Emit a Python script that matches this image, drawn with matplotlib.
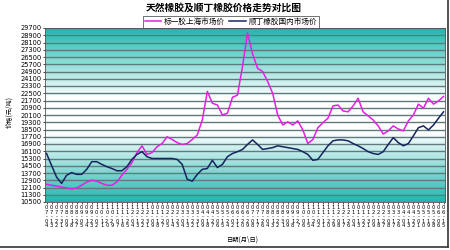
import numpy as np
import pandas as pd
import matplotlib
matplotlib.use("Agg")
import matplotlib.pyplot as plt
from matplotlib.colors import LinearSegmentedColormap
from matplotlib.lines import Line2D

plt.rcParams["font.family"] = ["Noto Sans CJK SC", "DejaVu Sans"]

# Data (yuan / ton)
shanghai_price = [
    12450, 12350, 12250, 12150, 12050, 11950, 12050, 12350, 12700, 12900,
    12800, 12550, 12350, 12350, 12700, 13450, 14100, 14850, 15950, 16700,
    15750, 15950, 16600, 16950, 17700, 17400, 17050, 16850, 16950, 17400,
    17900, 19550, 22700, 21400, 21200, 20100, 20300, 22050, 22300, 25450,
    29150, 26850, 25250, 24900, 23800, 22500, 20100, 19000, 19350, 19000,
    19450, 18450, 16950, 17400, 18700, 19250, 19750, 21100, 21200, 20550,
    20450, 21100, 21950, 20450, 20000, 19550, 18900, 18000, 18350, 18900,
    18550, 18350, 19450, 20100, 21300, 20850, 21950, 21300, 21650, 22150,
]
br_price = [
    15850, 14550, 13250, 12550, 13450, 13750, 13550, 13550, 14100, 14950,
    14950, 14650, 14400, 14200, 13950, 13950, 14400, 15200, 15750, 16050,
    15500, 15300, 15300, 15300, 15300, 15300, 15200, 14650, 13000, 12800,
    13550, 14100, 14200, 15100, 14300, 14650, 15500, 15850, 16050, 16300,
    16850, 17350, 16850, 16300, 16400, 16500, 16700, 16600, 16500, 16400,
    16300, 16050, 15750, 15100, 15200, 15950, 16700, 17250, 17350, 17350,
    17250, 16950, 16700, 16400, 16050, 15850, 15750, 16050, 16850, 17600,
    17050, 16700, 16950, 17800, 18700, 18900, 18450, 19000, 19750, 20450,
]
dates = pd.date_range("2005-07-04", periods=len(shanghai_price), freq="9D")
date_labels = ["\n".join(d.strftime("%m-%d")) for d in dates]
y_ticks = list(range(10500, 29701, 800))

fig = plt.figure(figsize=(4.5, 2.5), dpi=100)
ax = fig.add_axes([0.1, 0.192, 0.889, 0.696])

# teal -> white -> teal background
cmap = LinearSegmentedColormap.from_list(
    "bg", ["#22b5b0", "#8fdcd8", "#ffffff", "#ffffff", "#8fdcd8", "#22b5b0"]
)
grad = np.linspace(0, 1, 256).reshape(-1, 1)
ax.imshow(grad, cmap=cmap, aspect="auto", extent=[0, 1, 0, 1],
          transform=ax.transAxes, zorder=0)

x = np.arange(len(shanghai_price))
for yt in y_ticks:
    ax.axhline(yt, color="#5f7a7a", lw=1.0, zorder=1)

ax.plot(x, shanghai_price, color="#e41ee4", lw=1.1, zorder=3, label="标一胶上海市场价")
ax.plot(x, br_price, color="#16245e", lw=1.1, zorder=3, label="顺丁橡胶国内市场价")

ax.set_xlim(-0.3, len(x) - 0.7)
ax.set_ylim(10500, 29700)
ax.set_yticks(y_ticks)
ax.set_yticklabels([str(v) for v in y_ticks], fontsize=4.8, family="DejaVu Sans")
ax.set_xticks(x)
ax.set_xticklabels(date_labels, fontsize=3.8, linespacing=0.85, family="DejaVu Sans")
ax.tick_params(axis="both", length=1.5, width=0.5, pad=1)
for s in ax.spines.values():
    s.set_color("#555555")
    s.set_linewidth(0.6)

fig.text(0.497, 0.968, "天然橡胶及顺丁橡胶价格走势对比图", ha="center", va="center",
         fontsize=7, fontweight="bold")
fig.text(0.02, 0.55, "价格(元/吨)", rotation=90, ha="center", va="center", fontsize=4.5)
fig.text(0.54, 0.04, "日期(月\\日)", ha="center", va="center", fontsize=4.5)

leg = fig.legend(loc="center", bbox_to_anchor=(0.513, 0.912), ncol=2, fontsize=5.5,
                 frameon=True, fancybox=False, handlelength=2.2, handletextpad=0.3,
                 columnspacing=0.6, borderpad=0.25)
leg.get_frame().set_edgecolor("#333333")
leg.get_frame().set_linewidth(0.6)

# shadow-like frame on right and bottom
fig.add_artist(Line2D([0.0, 0.996], [0.012, 0.012], transform=fig.transFigure,
                      color="#333333", lw=1.2))
fig.add_artist(Line2D([0.996, 0.996], [0.012, 1.0], transform=fig.transFigure,
                      color="#333333", lw=1.2))

fig.savefig("out.png", dpi=100)
